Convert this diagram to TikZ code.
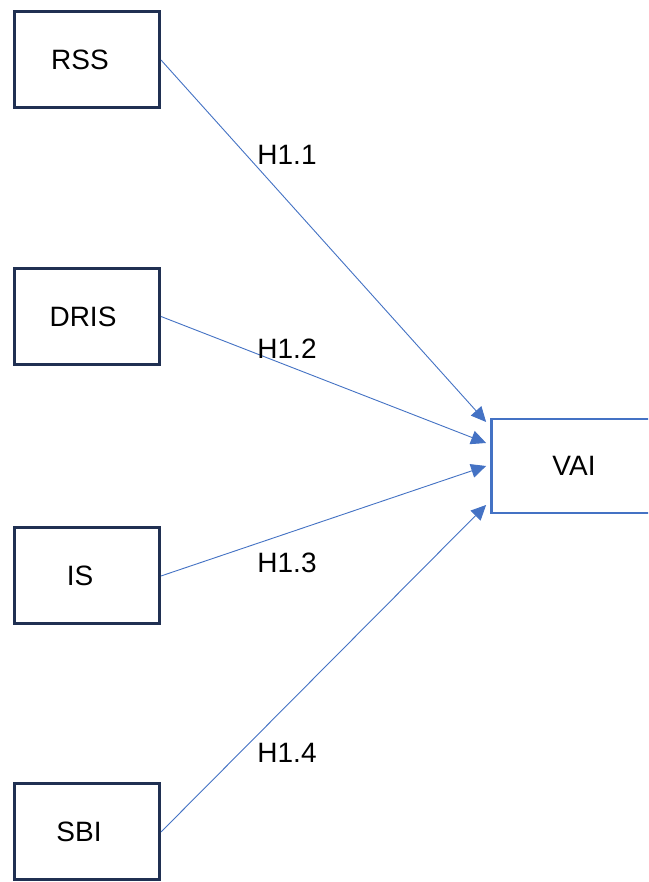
\documentclass[tikz,border=0pt]{standalone}
\usepackage{fontspec}
\setmainfont{Liberation Sans}
\usetikzlibrary{arrows.meta,calc}
\definecolor{navy}{RGB}{32,48,82}
\definecolor{arrowblue}{RGB}{68,114,196}
\begin{document}
\begin{tikzpicture}[x=1pt,y=1pt,
  srcbox/.style={draw=navy,line width=3pt,fill=white,minimum width=145pt,minimum height=96pt,inner sep=0pt,font=\fontsize{28}{32}\selectfont},
  tgtbox/.style={draw=arrowblue,line width=2.8pt,fill=white,minimum width=165pt,minimum height=94pt,inner sep=0pt,font=\fontsize{28}{32}\selectfont},
  conn/.style={draw=arrowblue,line width=0.9pt,-{Triangle[length=15pt,width=14pt]}},
  hyp/.style={font=\fontsize{28}{32}\selectfont,inner sep=0pt}]
\useasboundingbox (0,0) rectangle (648,882);
\clip (0,0) rectangle (648,882);
\fill[white] (0,0) rectangle (648,882);
\node[srcbox] (rss) at (87,822) {\hspace*{-14pt}RSS};
\node[srcbox] (dris) at (87,565.5) {\hspace*{-8pt}DRIS};
\node[srcbox] (is) at (87,306) {\hspace*{-14pt}IS};
\node[srcbox] (sbi) at (87,50) {\hspace*{-16pt}SBI};
\node[tgtbox] (vai) at (574,416) {VAI};
\coordinate (t1) at ($(vai.west)+(-4,44)$);
\coordinate (t2) at ($(vai.west)+(-4,23)$);
\coordinate (t3) at ($(vai.west)+(-4,0)$);
\coordinate (t4) at ($(vai.west)+(-4,-39)$);
\draw[conn] (rss.east) -- (t1);
\draw[conn] (dris.east) -- (t2);
\draw[conn] (is.east) -- (t3);
\draw[conn] (sbi.east) -- (t4);
\node[hyp] (h1) at (287,727) {H1.1};
\node[hyp] (h2) at (287,533) {H1.2};
\node[hyp] (h3) at (287,319) {H1.3};
\node[hyp] (h4) at (287,129) {H1.4};
\end{tikzpicture}
\end{document}
